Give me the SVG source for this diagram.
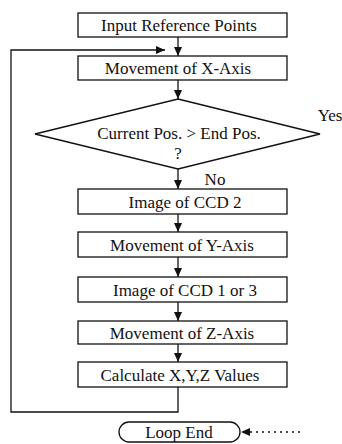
<svg xmlns="http://www.w3.org/2000/svg" width="342" height="444" viewBox="0 0 342 444">
<style>
.box{fill:#fff;stroke:#111;stroke-width:1.3}
.ln{fill:none;stroke:#111;stroke-width:1.3}
text{font-family:"Liberation Serif","Times New Roman",serif;font-size:17px;fill:#111;text-anchor:middle}
</style>
<defs>
<marker id="ah" markerWidth="10" markerHeight="10" refX="9" refY="5" orient="auto" markerUnits="userSpaceOnUse">
<path d="M0,1 L9,5 L0,9 Z" fill="#111"/>
</marker>
</defs>
<rect width="342" height="444" fill="#fff"/>
<g id="connectors">
<line class="ln" x1="178" y1="37" x2="178" y2="56" marker-end="url(#ah)"/>
<polyline class="ln" points="178,387 178,412 11,412 11,50 165,50" marker-end="url(#ah)"/>
<line class="ln" x1="178" y1="80" x2="178" y2="99" marker-end="url(#ah)"/>
<line class="ln" x1="178" y1="169" x2="178" y2="189" marker-end="url(#ah)"/>
<line class="ln" x1="178" y1="214" x2="178" y2="232" marker-end="url(#ah)"/>
<line class="ln" x1="178" y1="257" x2="178" y2="277" marker-end="url(#ah)"/>
<line class="ln" x1="178" y1="302" x2="178" y2="321" marker-end="url(#ah)"/>
<line class="ln" x1="178" y1="344" x2="178" y2="362" marker-end="url(#ah)"/>
<line class="ln" x1="300" y1="432" x2="241" y2="432" stroke-dasharray="2,4" stroke-width="0.8" marker-end="url(#ah)"/>
<text x="330" y="121">Yes</text>
<text x="215" y="185">No</text>
</g>
<g id="n1"><rect class="box" x="78" y="13" width="209" height="24"/><text x="179" y="31">Input Reference Points</text></g>
<g id="n2"><rect class="box" x="78" y="56" width="209" height="24"/><text x="178" y="74">Movement of X-Axis</text></g>
<g id="n3"><polygon class="box" points="178,99 320,134 178,169 35,134"/><text x="179" y="139">Current Pos. &gt; End Pos.</text><text x="178" y="159">?</text></g>
<g id="n4"><rect class="box" x="78" y="189" width="209" height="25"/><text x="185" y="208">Image of CCD 2</text></g>
<g id="n5"><rect class="box" x="78" y="232" width="209" height="25"/><text x="182" y="251">Movement of Y-Axis</text></g>
<g id="n6"><rect class="box" x="78" y="277" width="209" height="25"/><text x="185" y="296">Image of CCD 1 or 3</text></g>
<g id="n7"><rect class="box" x="78" y="321" width="209" height="23"/><text x="182" y="339">Movement of Z-Axis</text></g>
<g id="n8"><rect class="box" x="78" y="362" width="209" height="25"/><text x="180" y="381">Calculate X,Y,Z Values</text></g>
<g id="n9"><rect class="box" x="119" y="422" width="121" height="20" rx="10" ry="10"/><text x="179" y="438">Loop End</text></g>
</svg>
